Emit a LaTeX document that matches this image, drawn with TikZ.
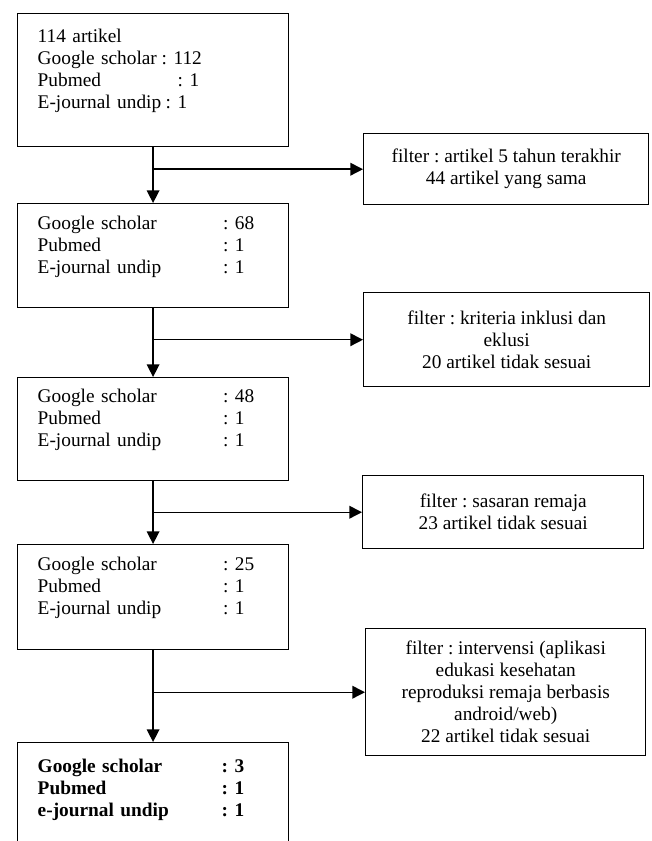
\documentclass[tikz,border=0pt]{standalone}
\usepackage{fontspec}
\setmainfont{Liberation Serif}
\frenchspacing
\usetikzlibrary{arrows.meta}

\tikzset{
  txt/.style={font=\fontsize{14.5pt}{16.5pt}\selectfont},
  srcbox/.style={txt, draw, line width=1.1pt, anchor=north west, align=left,
    text width=173pt, inner xsep=15pt, minimum width=203pt},
  filterbox/.style={txt, draw, line width=1.1pt, anchor=north west, align=center},
  flow/.style={line width=1.1pt, -{Triangle[length=9.5pt,width=9.5pt]}}
}

\begin{document}
\begin{tikzpicture}[x=0.75pt,y=-0.75pt]
\useasboundingbox (0,0) rectangle (651,841);

\node[srcbox, minimum height=99.75pt] (b1) at (17,13)
  {114 artikel\\
   \makebox[93pt][l]{Google scholar}: 112\\
   \makebox[105pt][l]{Pubmed}: 1\\
   \makebox[96pt][l]{E-journal undip}: 1\\ ~};
\node[srcbox, minimum height=78pt] (b2) at (17,203)
  {\makebox[139pt][l]{Google scholar}: 68\\
   \makebox[139pt][l]{Pubmed}: 1\\
   \makebox[139pt][l]{E-journal undip}: 1\\ ~};
\node[srcbox, minimum height=77pt] (b3) at (17,377)
  {\makebox[139pt][l]{Google scholar}: 48\\
   \makebox[139pt][l]{Pubmed}: 1\\
   \makebox[139pt][l]{E-journal undip}: 1\\ ~};
\node[srcbox, minimum height=78.75pt] (b4) at (17,544)
  {\makebox[139pt][l]{Google scholar}: 25\\
   \makebox[139pt][l]{Pubmed}: 1\\
   \makebox[139pt][l]{E-journal undip}: 1\\ ~};
\node[srcbox, minimum height=84pt, font=\fontsize{14.5pt}{16.5pt}\selectfont\bfseries] (b5) at (17,742)
  {\makebox[138pt][l]{Google scholar}: 3\\
   \makebox[138pt][l]{Pubmed}: 1\\
   \makebox[138pt][l]{e-journal undip}: 1\\ ~};

\node[filterbox, minimum width=213.75pt, minimum height=53.25pt] (f1) at (363,133)
  {filter : artikel 5 tahun terakhir\\ 44 artikel yang sama};
\node[filterbox, minimum width=214.5pt, minimum height=70.5pt] (f2) at (363,292)
  {filter : kriteria inklusi dan\\ eklusi\\ 20 artikel tidak sesuai};
\node[filterbox, minimum width=210.75pt, minimum height=54.75pt] (f3) at (362,475)
  {filter : sasaran remaja\\ 23 artikel tidak sesuai};
\node[filterbox, minimum width=210pt, minimum height=95.25pt] (f4) at (365,628)
  {filter : intervensi (aplikasi\\ edukasi kesehatan\\ reproduksi remaja berbasis\\
   android/web)\\ 22 artikel tidak sesuai};

\draw[flow] (b1) -- (b2);
\draw[flow] (b2) -- (b3);
\draw[flow] (b3) -- (b4);
\draw[flow] (b4) -- (b5);

\draw[flow] (b1.south |- f1.west) -- (f1.west);
\draw[flow] (b2.south |- f2.west) -- (f2.west);
\draw[flow] (b3.south |- f3.west) -- (f3.west);
\draw[flow] (b4.south |- f4.west) -- (f4.west);
\end{tikzpicture}
\end{document}
